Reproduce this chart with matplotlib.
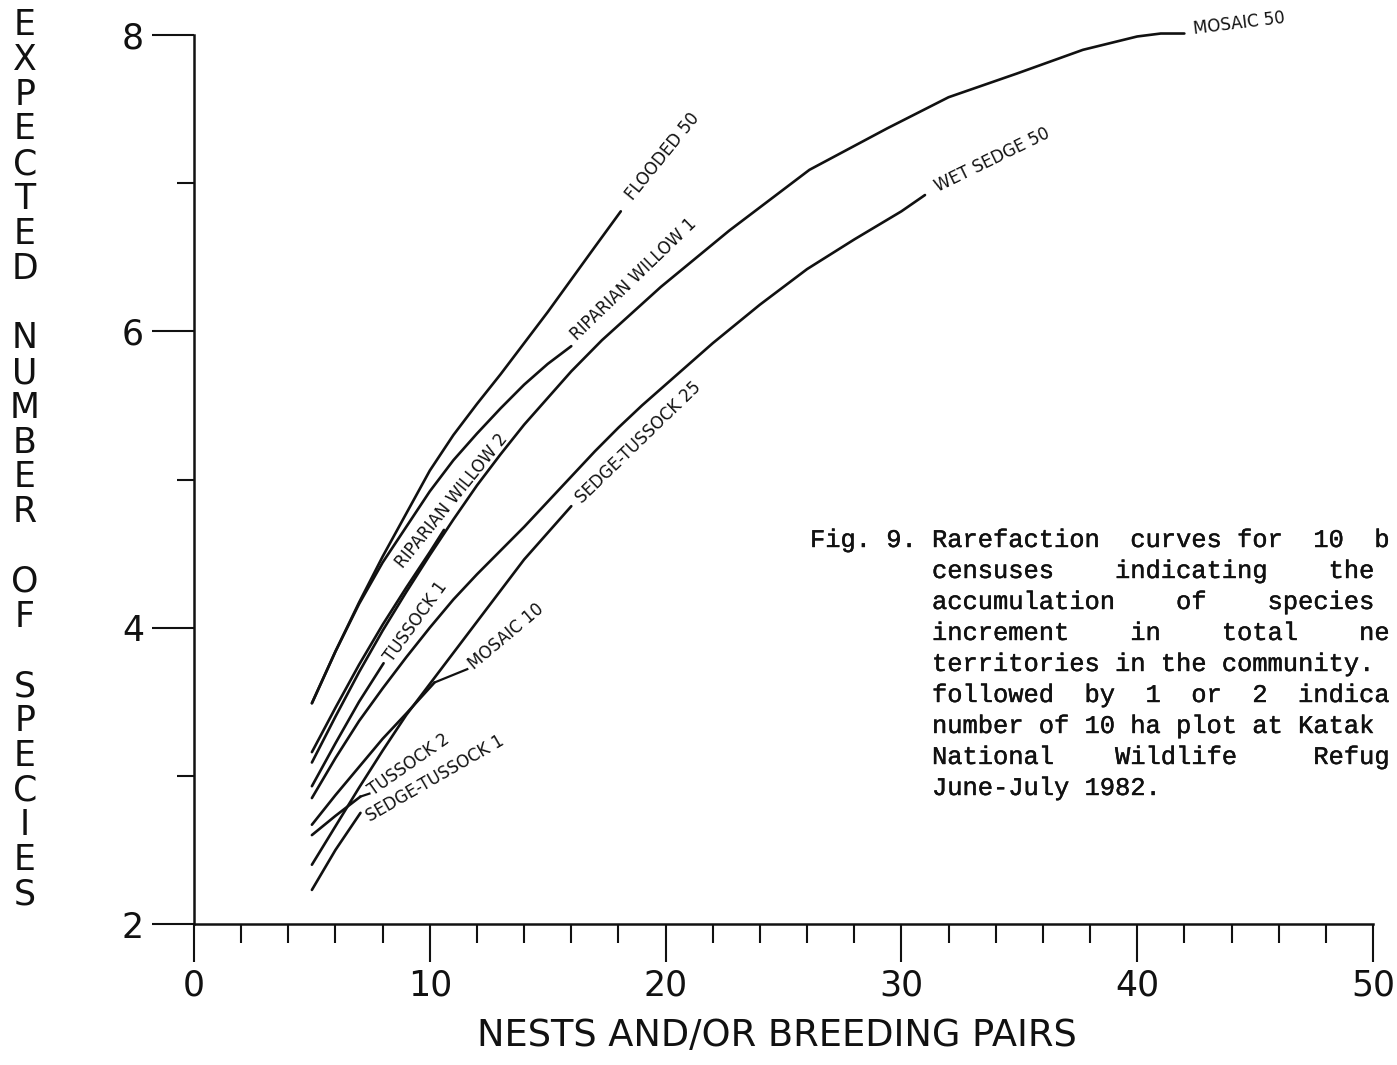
import matplotlib
matplotlib.use('Agg')
import matplotlib.pyplot as plt
import matplotlib.patheffects as pe

# ============================================================
# Data (expected species vs. pairs)
# ============================================================
flooded50_x = [5, 6, 7, 8, 9, 10, 11, 12, 13, 14, 15, 16, 17, 18.1]
flooded50_y = [3.49, 3.84, 4.17, 4.48, 4.77, 5.06, 5.30, 5.51, 5.71, 5.92, 6.13, 6.35, 6.57, 6.81]

ripwil1_x = [5, 6, 7, 8, 9, 10, 11, 12, 13, 14, 15, 16]
ripwil1_y = [3.49, 3.84, 4.16, 4.44, 4.68, 4.92, 5.13, 5.31, 5.48, 5.64, 5.78, 5.90]

ripwil2_x = [5, 6, 7, 8, 9, 10, 10.6]
ripwil2_y = [3.16, 3.46, 3.75, 4.02, 4.27, 4.51, 4.66]

mosaic50_x = [5, 6, 7, 8, 9, 10, 11, 12, 13, 14, 15, 16, 17.3, 19.8, 22.7, 26.1,
              29.4, 32, 34.9, 37.7, 40, 41, 42]
mosaic50_y = [3.09, 3.40, 3.70, 3.98, 4.24, 4.49, 4.73, 4.96, 5.17, 5.37, 5.55, 5.73,
              5.94, 6.30, 6.68, 7.09, 7.37, 7.58, 7.74, 7.90, 7.99, 8.01, 8.01]

tussock1_x = [5, 6, 7, 8.04]
tussock1_y = [2.93, 3.22, 3.50, 3.76]

wetsedge50_x = [5, 6, 7, 8, 9, 10, 11, 12, 13, 14, 15, 16, 17, 18, 19, 20, 22, 24,
                26, 28, 30, 31]
wetsedge50_y = [2.85, 3.12, 3.37, 3.59, 3.80, 4.00, 4.19, 4.36, 4.52, 4.68, 4.85, 5.02,
                5.19, 5.35, 5.50, 5.64, 5.92, 6.18, 6.42, 6.62, 6.81, 6.92]

sedtus25_x = [5, 6, 7, 8, 9, 10, 11, 12, 13, 14, 15, 16]
sedtus25_y = [2.40, 2.66, 2.92, 3.17, 3.41, 3.62, 3.83, 4.04, 4.25, 4.46, 4.64, 4.82]

mosaic10_x = [5, 6, 7, 8, 9, 10.2]
mosaic10_y = [2.67, 2.87, 3.06, 3.25, 3.42, 3.63]

tussock2_x = [5, 6, 7.06]
tussock2_y = [2.60, 2.73, 2.86]

sedtus1_x = [5, 6, 7.06]
sedtus1_y = [2.23, 2.50, 2.75]

# hand-lettered curve labels: text, anchor (data), angle
label_text = ['FLOODED 50', 'RIPARIAN WILLOW 1', 'RIPARIAN WILLOW 2', 'TUSSOCK 1',
              'SEDGE-TUSSOCK 25', 'MOSAIC 10', 'TUSSOCK 2', 'SEDGE-TUSSOCK 1',
              'WET SEDGE 50', 'MOSAIC 50']
label_x = [18.45, 16.1, 8.68, 8.21, 16.3, 11.74, 7.49, 7.36, 31.45, 42.4]
label_y = [6.90, 5.96, 4.42, 3.78, 4.86, 3.74, 2.89, 2.72, 6.97, 8.04]
label_rot = [51, 44, 51, 54, 44, 40, 35, 30, 26, 7]

x_ticks = [0, 10, 20, 30, 40, 50]
x_minor = [v for v in range(2, 50, 2) if v % 10]
y_ticks = [2, 4, 6, 8]
y_minor = [3, 5, 7]

caption = [
    "Fig. 9. Rarefaction  curves for  10  b",
    "        censuses    indicating    the",
    "        accumulation    of    species",
    "        increment    in    total    ne",
    "        territories in the community.",
    "        followed  by  1  or  2  indica",
    "        number of 10 ha plot at Katak",
    "        National    Wildlife     Refug",
    "        June-July 1982.",
]
ylabel_words = ['EXPECTED', 'NUMBER', 'OF', 'SPECIES']

# ============================================================
# Figure
# ============================================================
W, H = 1397, 1065
fig = plt.figure(figsize=(W / 100, H / 100), dpi=100)
fig.patch.set_facecolor('white')
ax = fig.add_axes([194 / W, 1 - 924 / H, (1373 - 194) / W, (924 - 35) / H])
ax.set_xlim(0, 50)
ax.set_ylim(2, 8)

ink = '#111111'
curves = [(flooded50_x, flooded50_y), (ripwil1_x, ripwil1_y), (ripwil2_x, ripwil2_y),
          (mosaic50_x, mosaic50_y), (tussock1_x, tussock1_y), (wetsedge50_x, wetsedge50_y),
          (sedtus25_x, sedtus25_y), (mosaic10_x, mosaic10_y), (tussock2_x, tussock2_y),
          (sedtus1_x, sedtus1_y)]
for cx, cy in curves:
    ax.plot(cx, cy, color=ink, lw=1.9, solid_capstyle='round', solid_joinstyle='round',
            clip_on=False)

# short leaders where the label sits off the curve end
ax.plot([mosaic10_x[-1], label_x[5] - 0.15], [mosaic10_y[-1], label_y[5] - 0.02],
        color=ink, lw=1.6, clip_on=False)
ax.plot([tussock2_x[-1], label_x[6] - 0.05], [tussock2_y[-1], label_y[6] - 0.01],
        color=ink, lw=1.6, clip_on=False)

for t, lx, ly, r in zip(label_text, label_x, label_y, label_rot):
    ax.text(lx, ly, t, rotation=r, rotation_mode='anchor', ha='left', va='center',
            fontsize=12, color=ink, family='DejaVu Sans', clip_on=False)

# axes styling
for s in ['top', 'right']:
    ax.spines[s].set_visible(False)
for s in ['left', 'bottom']:
    ax.spines[s].set_linewidth(1.8)
    ax.spines[s].set_color(ink)

ax.set_xticks(x_ticks)
ax.set_xticks(x_minor, minor=True)
ax.set_yticks(y_ticks)
ax.set_yticks(y_minor, minor=True)
ax.set_xticklabels([str(v) for v in x_ticks])
ax.set_yticklabels([str(v) for v in y_ticks])
ax.tick_params(axis='x', which='major', direction='out', length=27, width=1.5,
               pad=5, labelsize=25, colors=ink)
ax.tick_params(axis='x', which='minor', direction='out', length=14, width=1.5, colors=ink)
ax.tick_params(axis='y', which='major', direction='out', length=30, width=1.5,
               pad=6, labelsize=25, colors=ink)
ax.tick_params(axis='y', which='minor', direction='out', length=12, width=1.5, colors=ink)

fig.text(777 / W, 1 - 1035 / H, 'NESTS AND/OR BREEDING PAIRS', ha='center', va='center',
         fontsize=26.5, color=ink)

# vertical stacked y label, one letter per slot, blank slot between words
slot = 0
pitch = 34.8
for wi, word in enumerate(ylabel_words):
    for ch in word:
        fig.text(25 / W, 1 - (25 + slot * pitch) / H, ch, ha='center', va='center',
                 fontsize=25, color=ink)
        slot += 1
    slot += 1

# typed caption (lightly thickened to look like typewriter ink)
for i, line in enumerate(caption):
    fig.text(810 / W, 1 - (547 + i * 31) / H, line, ha='left', va='baseline',
             fontsize=18.3, family='Liberation Mono', color=ink,
             path_effects=[pe.withStroke(linewidth=0.3, foreground=ink)])

fig.savefig('out.png', dpi=100, facecolor='white')
plt.close(fig)
